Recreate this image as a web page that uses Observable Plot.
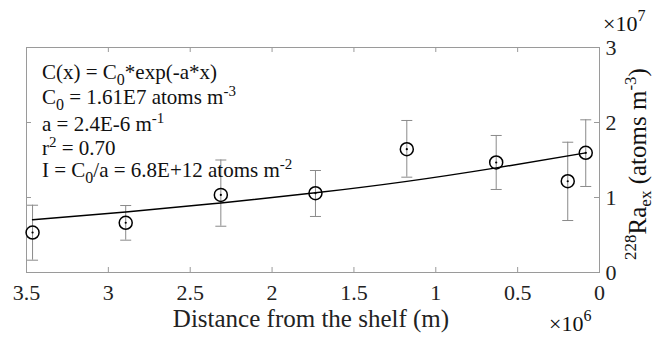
<!DOCTYPE html>
<html><head><meta charset="utf-8">
<script src="https://cdn.jsdelivr.net/npm/d3@7"></script>
<script src="https://cdn.jsdelivr.net/npm/@observablehq/plot@0.6"></script>
<style>
body{margin:0;background:#fff;font-family:"Liberation Serif"}
</style>
</head><body><div id="chart"></div>
<script>
// Data (distance in m, 228Ra_ex in atoms m^-3)
const distance = [3.463e6, 2.894e6, 2.313e6, 1.735e6, 1.177e6, 0.631e6, 0.194e6, 0.084e6];
const ra228    = [0.533e7, 0.663e7, 1.035e7, 1.057e7, 1.644e7, 1.467e7, 1.217e7, 1.596e7];
const errLow   = [0.164e7, 0.431e7, 0.617e7, 0.747e7, 1.271e7, 1.107e7, 0.693e7, 1.147e7];
const errHigh  = [0.897e7, 0.893e7, 1.500e7, 1.360e7, 2.027e7, 1.827e7, 1.737e7, 2.036e7];
// Fitted curve
const fitDistance = [3.463e6, 2.894e6, 2.313e6, 1.735e6, 1.177e6, 0.631e6, 0.084e6];
const fitValue    = [0.703e7, 0.808e7, 0.927e7, 1.062e7, 1.215e7, 1.395e7, 1.595e7];
const xTicks = [3.5e6, 3e6, 2.5e6, 2e6, 1.5e6, 1e6, 0.5e6, 0];
const yTicks = [0, 1e7, 2e7, 3e7];

const W = 657, H = 337, mL = 26, mR = 58, mT = 47, mB = 65;
const plotW = W - mL - mR, plotH = H - mT - mB;
const axisGray = "#9a9a9a", barGray = "#8a8a8a";
const serif = "Liberation Serif";

const data = distance.map((d, i) => ({d, v: ra228[i], lo: errLow[i], hi: errHigh[i]}));
const fit = fitDistance.map((d, i) => ({d, v: fitValue[i]}));
const capSymbol = {draw(ctx) { ctx.moveTo(-5.5, 0); ctx.lineTo(5.5, 0); }};

const svg = Plot.plot({
  width: W, height: H,
  marginLeft: mL, marginRight: mR, marginTop: mT, marginBottom: mB,
  style: {fontSize: "22px", background: "#fff", overflow: "visible"},
  x: {domain: [3.5e6, 0], label: null},
  y: {domain: [0, 3e7], label: null},
  marks: [
    Plot.frame({stroke: axisGray}),
    Plot.tickX(xTicks, {x: d => d, insetTop: plotH - 5, stroke: axisGray}),
    Plot.tickX(xTicks, {x: d => d, insetBottom: plotH - 5, stroke: axisGray}),
    Plot.tickY(yTicks, {y: d => d, insetRight: plotW - 5, stroke: axisGray}),
    Plot.tickY(yTicks, {y: d => d, insetLeft: plotW - 5, stroke: axisGray}),
    Plot.axisX({ticks: xTicks, tickFormat: d => d / 1e6, tickSize: 0, tickPadding: 12, label: null, fontSize: 22, fill: "#222"}),
    Plot.axisY({anchor: "right", ticks: yTicks, tickFormat: d => d / 1e7, tickSize: 0, tickPadding: 6, label: null, fontSize: 22, fill: "#222"}),
    Plot.ruleX(data, {x: "d", y1: "lo", y2: "hi", stroke: barGray, strokeWidth: 1}),
    Plot.dot(data, {x: "d", y: "lo", symbol: capSymbol, stroke: barGray, strokeWidth: 1}),
    Plot.dot(data, {x: "d", y: "hi", symbol: capSymbol, stroke: barGray, strokeWidth: 1}),
    Plot.line(fit, {x: "d", y: "v", curve: "natural", stroke: "#000", strokeWidth: 1.5}),
    Plot.dot(data, {x: "d", y: "v", r: 6.5, stroke: "#000", strokeWidth: 1.5}),
    Plot.dot(data, {x: "d", y: "v", r: 1.1, fill: "#000"})
  ]
});
document.getElementById("chart").append(svg);

function richText(x, y, parts, o) {
  const t = d3.select(svg).append("text")
    .attr("fill", "#111").attr("font-size", o.size)
    .attr("text-anchor", o.anchor || "start");
  if (o.rotate) t.attr("transform", `translate(${x},${y}) rotate(${o.rotate})`);
  else t.attr("x", x).attr("y", y);
  let cur = 0;
  for (const [s, kind] of parts) {
    const off = kind === "sub" ? o.subDy : kind === "sup" ? -o.supDy : 0;
    t.append("tspan").attr("dy", off - cur)
      .attr("font-size", kind === "sub" ? o.subSize : kind === "sup" ? o.supSize : o.size)
      .text(s);
    cur = off;
  }
}
const ann = {size: 21, subSize: 16, supSize: 15, subDy: 6, supDy: 8};
richText(42, 79, [["C(x) = C"], ["0", "sub"], ["*exp(-a*x)"]], ann);
richText(42, 104, [["C"], ["0", "sub"], [" = 1.61E7 atoms m"], ["-3", "sup"]], ann);
richText(42, 131, [["a = 2.4E-6 m"], ["-1", "sup"]], ann);
richText(42, 155, [["r"], ["2", "sup"], [" = 0.70"]], ann);
richText(42, 177, [["I = C"], ["0", "sub"], ["/a = 6.8E+12 atoms m"], ["-2", "sup"]], ann);

const expo = {size: 22, subSize: 16, supSize: 16, subDy: 6, supDy: 10};
richText(603, 31, [["×10"], ["7", "sup"]], expo);
richText(549, 331, [["×10"], ["6", "sup"]], expo);

richText(646, 164, [["228", "sup"], ["Ra"], ["ex", "sub"], [" (atoms m"], ["-3", "sup"], [")"]],
  {size: 25, subSize: 17, supSize: 17, subDy: 5, supDy: 10, rotate: -90, anchor: "middle"});

d3.select(svg).append("text").attr("x", 311).attr("y", 327)
  .attr("text-anchor", "middle").attr("font-size", 25).attr("fill", "#222")
  .text("Distance from the shelf (m)");
d3.select(svg).attr("font-family", serif).style("font-family", serif);
d3.select(svg).selectAll("text").attr("font-family", serif).style("font-family", serif);
</script>
</body></html>
